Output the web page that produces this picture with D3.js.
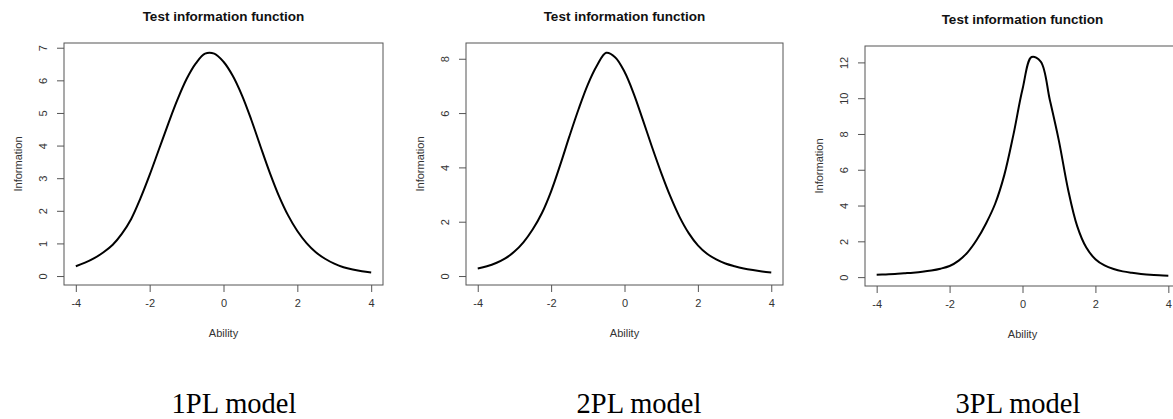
<!DOCTYPE html>
<html lang="en">
<head>
<meta charset="UTF-8">
<title>Test information function</title>
<style>
  body { margin: 0; padding: 0; background: #fff; }
  svg { display: block; }
  .ttl { font-family: "Liberation Sans", Arial, sans-serif; font-weight: bold; font-size: 13.5px; fill: #111; text-anchor: middle; }
  .lab { font-family: "Liberation Sans", Arial, sans-serif; font-size: 11px; fill: #333; text-anchor: middle; }
  .tick text { font-family: "Liberation Sans", Arial, sans-serif; font-size: 11px; fill: #333; }
  .tick line { stroke: #555; }
  .cap { font-family: "Liberation Serif", "Times New Roman", serif; font-size: 28.5px; fill: #000; text-anchor: middle; }
</style>
</head>
<body>
<svg id="chart" width="1173" height="419"></svg>
<script src="https://d3js.org/d3.v7.min.js"></script>
<script>
// ability grid (theta), shared by all three models
var theta = [-4, -3.75, -3.5, -3.25, -3, -2.75, -2.5, -2.25, -2, -1.75, -1.5, -1.25, -1, -0.75, -0.5, -0.25,
             0, 0.25, 0.5, 0.75, 1, 1.25, 1.5, 1.75, 2, 2.25, 2.5, 2.75, 3, 3.25, 3.5, 3.75, 4];

// test information
var info1PL = [0.30, 0.41, 0.55, 0.73, 0.96, 1.30, 1.75, 2.38, 3.10, 3.88, 4.66, 5.40, 6.04, 6.52, 6.82, 6.82,
               6.57, 6.14, 5.54, 4.80, 3.98, 3.18, 2.46, 1.86, 1.38, 1.01, 0.73, 0.53, 0.38, 0.27, 0.20, 0.15, 0.11];
var info2PL = [0.28, 0.36, 0.48, 0.65, 0.90, 1.25, 1.72, 2.32, 3.12, 4.10, 5.15, 6.15, 7.05, 7.75, 8.22, 8.05,
               7.52, 6.72, 5.75, 4.75, 3.80, 2.93, 2.18, 1.58, 1.13, 0.82, 0.61, 0.46, 0.36, 0.28, 0.22, 0.17, 0.13];
var info3PL = [0.13, 0.15, 0.17, 0.21, 0.25, 0.30, 0.37, 0.47, 0.62, 0.92, 1.40, 2.10, 3.00, 4.10, 5.70, 7.95,
               10.50, 12.30, 12.05, 9.90, 7.60, 4.90, 2.85, 1.65, 1.00, 0.65, 0.45, 0.32, 0.24, 0.18, 0.13, 0.10, 0.08];

var xTicks = [-4, -2, 0, 2, 4];
var yTicks1 = [0, 1, 2, 3, 4, 5, 6, 7];
var yTicks2 = [0, 2, 4, 6, 8];
var yTicks3 = [0, 2, 4, 6, 8, 10, 12];
var captions = ["1PL model", "2PL model", "3PL model"];

var panels = [
  {values: info1PL, yTicks: yTicks1, peak: 6.87, box: {l: 64, r: 383, t: 43, b: 285}, cap: 234},
  {values: info2PL, yTicks: yTicks2, peak: 8.25, box: {l: 466, r: 783, t: 43, b: 285}, cap: 639},
  {values: info3PL, yTicks: yTicks3, peak: 12.42, box: {l: 865, r: 1180, t: 46, b: 286}, cap: 1018}
];

var svg = d3.select("#chart");
var plain = function (d) { return String(d); };

panels.forEach(function (p, i) {
  var b = p.box;
  // R style: 4% padding on each side of the data range
  var x = d3.scaleLinear().domain([-4.32, 4.32]).range([b.l, b.r]);
  var y = d3.scaleLinear().domain([-0.04 * p.peak, 1.04 * p.peak]).range([b.b, b.t]);
  var cx = (b.l + b.r) / 2;

  var g = svg.append("g");

  g.append("text").attr("class", "ttl")
    .attr("x", cx).attr("y", b.t - 22)
    .text("Test information function");

  g.append("rect")
    .attr("x", b.l).attr("y", b.t)
    .attr("width", b.r - b.l).attr("height", b.b - b.t)
    .attr("fill", "none").attr("stroke", "#555").attr("stroke-width", 1);

  var xa = g.append("g")
    .attr("transform", "translate(0," + b.b + ")")
    .call(d3.axisBottom(x).tickValues(xTicks).tickSize(7).tickPadding(7).tickFormat(plain));
  xa.select(".domain").remove();

  var ya = g.append("g")
    .attr("transform", "translate(" + b.l + ",0)")
    .call(d3.axisLeft(y).tickValues(p.yTicks).tickSize(7).tickFormat(plain));
  ya.select(".domain").remove();
  ya.selectAll(".tick text")
    .attr("x", 0).attr("dy", null)
    .attr("transform", "translate(-21,0) rotate(-90)")
    .attr("text-anchor", "middle")
    .attr("dominant-baseline", "central");

  g.append("text").attr("class", "lab")
    .attr("x", cx).attr("y", b.b + 52)
    .text("Ability");

  g.append("text").attr("class", "lab")
    .attr("transform", "translate(" + (b.l - 46) + "," + ((b.t + b.b) / 2) + ") rotate(-90)")
    .attr("dominant-baseline", "central")
    .text("Information");

  var line = d3.line()
    .x(function (d, k) { return x(theta[k]); })
    .y(function (d) { return y(d); })
    .curve(d3.curveCatmullRom.alpha(0.5));

  g.append("path")
    .datum(p.values)
    .attr("d", line)
    .attr("fill", "none")
    .attr("stroke", "#000")
    .attr("stroke-width", 2);

  svg.append("text").attr("class", "cap")
    .attr("x", p.cap).attr("y", 413)
    .text(captions[i]);
});
</script>
</body>
</html>
